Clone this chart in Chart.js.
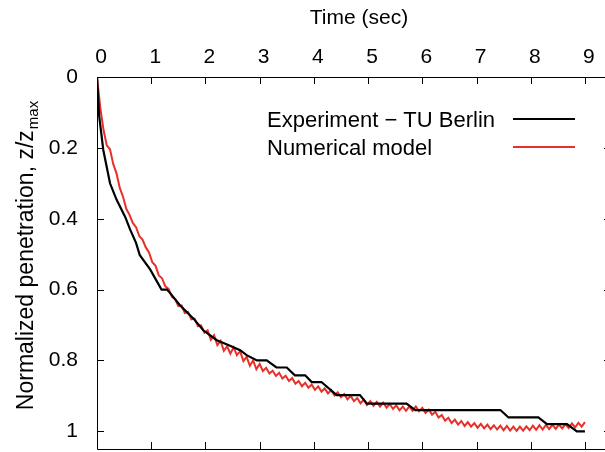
<!DOCTYPE html>
<html>
<head>
<meta charset="utf-8">
<script src="https://cdn.jsdelivr.net/npm/chart.js@4.4.0/dist/chart.umd.min.js"></script>
<style>
  html, body { margin: 0; padding: 0; background: #fff; }
  #wrap { width: 605px; height: 452px; }
</style>
</head>
<body>
<div id="wrap"><canvas id="chart" width="605" height="452"></canvas></div>
<script>
// experiment (TU Berlin)
const expTime = [0, 0.04, 0.116, 0.24, 0.36, 0.52, 0.61, 0.72, 0.79, 0.98, 1.19, 1.29, 1.35, 1.53, 1.78, 1.96, 2.21, 2.4, 2.64, 2.76, 2.95, 3.13, 3.31, 3.5, 3.65, 3.84, 3.96, 4.14, 4.42, 4.85, 4.98, 5.71, 5.87, 7.44, 7.59, 8.14, 8.30, 8.67, 8.85, 9.0];
const expPen = [0, 0.11, 0.206, 0.30, 0.346, 0.395, 0.43, 0.468, 0.503, 0.543, 0.60, 0.60, 0.61, 0.644, 0.682, 0.715, 0.743, 0.755, 0.771, 0.785, 0.80, 0.80, 0.82, 0.82, 0.842, 0.842, 0.861, 0.861, 0.898, 0.898, 0.922, 0.922, 0.94, 0.94, 0.961, 0.961, 0.98, 0.98, 1.0, 1.0];

// numerical model
const numTime = [0, 0.06, 0.12, 0.18, 0.24, 0.30, 0.36, 0.42, 0.48, 0.54, 0.60, 0.66, 0.72, 0.78, 0.84, 0.90, 0.96, 1.02, 1.08, 1.14, 1.20, 1.26, 1.32, 1.38, 1.44, 1.50,
  1.56, 1.62, 1.68, 1.74, 1.80, 1.86, 1.92, 1.98, 2.04, 2.10, 2.16, 2.22, 2.28, 2.34, 2.40, 2.46, 2.52, 2.58, 2.64, 2.70, 2.76, 2.82, 2.88, 2.94, 3.00,
  3.06, 3.12, 3.18, 3.24, 3.30, 3.36, 3.42, 3.48, 3.54, 3.60, 3.66, 3.72, 3.78, 3.84, 3.90, 3.96, 4.02, 4.08, 4.14, 4.20, 4.26, 4.32, 4.38, 4.44, 4.50,
  4.56, 4.62, 4.68, 4.74, 4.80, 4.86, 4.92, 4.98, 5.04, 5.10, 5.16, 5.22, 5.28, 5.34, 5.40, 5.46, 5.52, 5.58, 5.64, 5.70, 5.76, 5.82, 5.88, 5.94, 6.00,
  6.06, 6.12, 6.18, 6.24, 6.30, 6.36, 6.42, 6.48, 6.54, 6.60, 6.66, 6.72, 6.78, 6.84, 6.90, 6.96, 7.02, 7.08, 7.14, 7.20, 7.26, 7.32, 7.38, 7.44, 7.50,
  7.56, 7.62, 7.68, 7.74, 7.80, 7.86, 7.92, 7.98, 8.04, 8.10, 8.16, 8.22, 8.28, 8.34, 8.40, 8.46, 8.52, 8.58, 8.64, 8.70, 8.76, 8.82, 8.88, 8.94, 9.00];
const numPen = [0, 0.086, 0.149, 0.193, 0.204, 0.246, 0.272, 0.313, 0.338, 0.372, 0.389, 0.412, 0.424, 0.449, 0.459, 0.481, 0.495, 0.523, 0.533, 0.56, 0.568, 0.591, 0.598, 0.62, 0.627, 0.647,
  0.645, 0.666, 0.663, 0.684, 0.682, 0.703, 0.701, 0.722, 0.715, 0.742, 0.729, 0.757, 0.745, 0.773, 0.76, 0.781, 0.763, 0.785, 0.774, 0.802, 0.79, 0.815, 0.80, 0.825, 0.81,
  0.830, 0.821, 0.837, 0.829, 0.844, 0.835, 0.851, 0.843, 0.858, 0.85, 0.866, 0.858, 0.873, 0.863, 0.877, 0.868, 0.883, 0.873, 0.888, 0.879, 0.893, 0.884, 0.899, 0.89, 0.904,
  0.895, 0.91, 0.90, 0.915, 0.906, 0.921, 0.911, 0.926, 0.915, 0.928, 0.917, 0.93, 0.919, 0.933, 0.923, 0.937, 0.927, 0.941, 0.93, 0.942, 0.93, 0.942, 0.93, 0.943, 0.934,
  0.948, 0.939, 0.953, 0.945, 0.961, 0.954, 0.97, 0.962, 0.977, 0.967, 0.981, 0.971, 0.985, 0.974, 0.987, 0.977, 0.99, 0.979, 0.992, 0.981, 0.994, 0.983, 0.995, 0.984, 0.997,
  0.985, 0.998, 0.987, 0.999, 0.987, 0.998, 0.986, 0.997, 0.984, 0.996, 0.983, 0.995, 0.982, 0.994, 0.982, 0.993, 0.981, 0.992, 0.98, 0.991, 0.978, 0.989, 0.976, 0.987, 0.974];

const seriesLabels = ['Experiment \u2212 TU Berlin', 'Numerical model'];
const seriesColors = ['#000000', '#e8302a'];
const xTitle = 'Time (sec)';
const yTitle = 'Normalized penetration, z/z';
const yTitleSub = 'max';

const FONT = "'Liberation Sans', Arial, Helvetica, sans-serif";
Chart.defaults.font.family = FONT;
Chart.defaults.font.size = 21;
Chart.defaults.color = '#000';

function pts(xs, ys) {
  return xs.map((x, i) => ({ x: x, y: ys[i] }));
}

function noPad(s) {
  s.paddingTop = 0; s.paddingBottom = 0; s.paddingLeft = 0; s.paddingRight = 0;
}

// gnuplot-like frame, inward ticks, titles and legend
const framePlugin = {
  id: 'frame',
  afterDraw(c) {
    const ctx = c.ctx, a = c.chartArea, xs = c.scales.x, ys = c.scales.y;
    const rightEdge = a.right + 6; // right border sits just past the canvas
    ctx.save();
    ctx.strokeStyle = '#000';
    ctx.lineWidth = 1;
    ctx.beginPath();
    ctx.moveTo(rightEdge, a.top + 0.5); ctx.lineTo(a.left + 0.5, a.top + 0.5);
    ctx.lineTo(a.left + 0.5, a.bottom + 0.5); ctx.lineTo(rightEdge, a.bottom + 0.5);
    xs.ticks.forEach(t => {
      const p = Math.round(xs.getPixelForValue(t.value)) + 0.5;
      ctx.moveTo(p, a.top); ctx.lineTo(p, a.top + 7);
      ctx.moveTo(p, a.bottom); ctx.lineTo(p, a.bottom - 7);
    });
    ys.ticks.forEach(t => {
      const p = Math.round(ys.getPixelForValue(t.value)) + 0.5;
      ctx.moveTo(a.left, p); ctx.lineTo(a.left + 7, p);
      ctx.moveTo(rightEdge, p); ctx.lineTo(rightEdge - 7, p);
    });
    ctx.stroke();

    // x title
    ctx.fillStyle = '#000';
    ctx.font = '21px ' + FONT;
    ctx.textAlign = 'center';
    ctx.textBaseline = 'alphabetic';
    ctx.fillText(xTitle, 359, 24);

    // legend: text left, sample line right
    ctx.font = '22px ' + FONT;
    ctx.textAlign = 'left';
    c.data.datasets.forEach((d, i) => {
      const base = 126.5 + i * 28;
      ctx.fillStyle = '#000';
      ctx.fillText(d.label, 267, base);
      ctx.strokeStyle = d.borderColor;
      ctx.lineWidth = d.borderWidth;
      ctx.beginPath();
      ctx.moveTo(513, base - 7.5);
      ctx.lineTo(575, base - 7.5);
      ctx.stroke();
    });

    // rotated y title with subscript
    ctx.translate(33, 256);
    ctx.rotate(-Math.PI / 2);
    ctx.font = '23px ' + FONT;
    const w1 = ctx.measureText(yTitle).width;
    ctx.font = '15px ' + FONT;
    const w2 = ctx.measureText(yTitleSub).width;
    const x0 = -(w1 + w2) / 2;
    ctx.fillStyle = '#000';
    ctx.font = '23px ' + FONT;
    ctx.fillText(yTitle, x0, 0);
    ctx.font = '15px ' + FONT;
    ctx.fillText(yTitleSub, x0 + w1 + 1, 5);
    ctx.restore();
  }
};

const config = {
  type: 'line',
  data: {
    datasets: [{
      label: seriesLabels[0],
      data: pts(expTime, expPen),
      borderColor: seriesColors[0],
      borderWidth: 2.2
    }, {
      label: seriesLabels[1],
      data: pts(numTime, numPen),
      borderColor: seriesColors[1],
      borderWidth: 2
    }]
  },
  options: {
    responsive: false,
    animation: false,
    devicePixelRatio: 1,
    layout: { padding: { top: 0, right: 0, bottom: 3, left: 0 } },
    elements: {
      point: { radius: 0 },
      line: { tension: 0 }
    },
    plugins: {
      legend: { display: false },
      tooltip: { enabled: false }
    },
    scales: {
      x: {
        type: 'linear',
        position: 'top',
        min: 0,
        max: 9.37,
        grid: { display: false },
        border: { display: false },
        ticks: { stepSize: 1, includeBounds: false, padding: -1, labelOffset: 4 },
        afterFit: s => { s.height = 77; noPad(s); }
      },
      y: {
        type: 'linear',
        reverse: true,
        min: 0,
        max: 1.05,
        grid: { display: false },
        border: { display: false },
        ticks: {
          stepSize: 0.2,
          includeBounds: false,
          padding: 11,
          callback: v => String(+v.toFixed(1))
        },
        afterFit: s => { s.width = 97; noPad(s); }
      }
    }
  },
  plugins: [framePlugin]
};

var chart = document.getElementById('chart');
var myChart = new Chart(chart, config);
</script>
</body>
</html>
